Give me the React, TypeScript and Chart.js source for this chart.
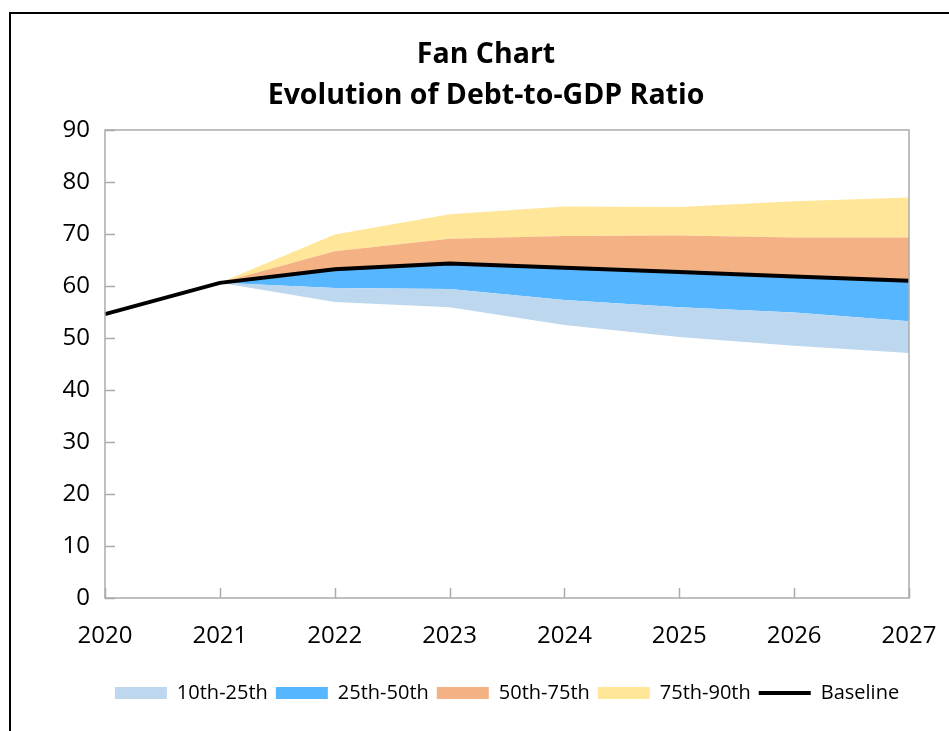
import React, { useEffect, useRef } from "react";
import { Chart, registerables } from "chart.js";

Chart.register(...registerables);

const years = ["2020", "2021", "2022", "2023", "2024", "2025", "2026", "2027"];
const baseline = [54.6, 60.6, 63.2, 64.3, 63.5, 62.7, 61.8, 61.0];
const p10 = [null, 60.6, 56.9, 55.9, 52.5, 50.2, 48.5, 47.1];
const p25 = [null, 60.6, 59.6, 59.4, 57.3, 55.9, 54.9, 53.2];
const p50 = [null, 60.6, 63.2, 64.3, 63.5, 62.7, 61.8, 61.0];
const p75 = [null, 60.6, 66.7, 69.1, 69.6, 69.7, 69.3, 69.3];
const p90 = [null, 60.6, 69.9, 73.8, 75.3, 75.2, 76.3, 77.0];
const yTicks = [0, 10, 20, 30, 40, 50, 60, 70, 80, 90];

const FONT = "'Open Sans', 'Noto Sans', sans-serif";
const FRAME = "#ababab";

const framePlugin = {
  id: "frame",
  afterDatasetsDraw(chart: any) {
    const { ctx, chartArea } = chart;
    const { left, right, top, bottom } = chartArea;
    ctx.save();
    ctx.strokeStyle = FRAME;
    ctx.lineWidth = 1.5;
    ctx.strokeRect(left, top, right - left, bottom - top);
    const ys = chart.scales.y;
    yTicks.forEach((v) => {
      const py = Math.round(ys.getPixelForValue(v)) + 0.5;
      ctx.beginPath();
      ctx.moveTo(left, py);
      ctx.lineTo(left + 10, py);
      ctx.stroke();
    });
    const xs = chart.scales.x;
    years.forEach((_, i) => {
      const px = Math.round(xs.getPixelForValue(i)) + 0.5;
      ctx.beginPath();
      ctx.moveTo(px, bottom);
      ctx.lineTo(px, bottom - 10);
      ctx.stroke();
    });
    ctx.restore();
  },
};

export default function App() {
  const ref = useRef<HTMLCanvasElement>(null);
  useEffect(() => {
    if (!ref.current) return;
    const band = (label: string, data: any[], fill: number, color: string) => ({
      label,
      data,
      fill,
      backgroundColor: color,
      borderColor: color,
      borderWidth: 0,
      pointRadius: 0,
      tension: 0,
      order: 1,
    });
    const chart = new Chart(ref.current, {
      type: "line",
      data: {
        labels: years,
        datasets: [
          {
            label: "Baseline",
            data: baseline,
            borderColor: "#000000",
            backgroundColor: "#000000",
            borderWidth: 4,
            pointRadius: 0,
            fill: false,
            order: 0,
          },
          { label: "p10", data: p10, fill: false, borderWidth: 0, pointRadius: 0, borderColor: "rgba(0,0,0,0)", order: 1 },
          band("10th-25th", p25, 1, "#BDD7EE"),
          band("25th-50th", p50, 2, "#56B6FF"),
          band("50th-75th", p75, 3, "#F4B183"),
          band("75th-90th", p90, 4, "#FFE699"),
        ] as any,
      },
      plugins: [framePlugin],
      options: {
        animation: false,
        responsive: false,
        layout: { padding: { left: 52, right: 40, top: 0, bottom: 18 } },
        scales: {
          x: {
            offset: false,
            grid: { display: false, drawTicks: false },
            border: { display: false },
            ticks: { color: "#000", font: { family: FONT, size: 24 }, padding: 24, maxRotation: 0 },
            afterFit: (s: any) => {
              s.height = 77;
              s.paddingRight = 0;
              s.paddingLeft = 0;
            },
          },
          y: {
            min: 0,
            max: 90,
            grid: { display: false, drawTicks: false },
            border: { display: false },
            ticks: { stepSize: 10, color: "#000", font: { family: FONT, size: 24 }, padding: 15 },
            afterFit: (s: any) => {
              s.width = 42;
            },
          },
        },
        plugins: {
          title: {
            display: true,
            text: ["Fan Chart", "Evolution of Debt-to-GDP Ratio"],
            color: "#000",
            font: { family: FONT, size: 28.5, weight: "bold", lineHeight: 1.445 },
            padding: { top: 20, bottom: 13.6 },
          },
          legend: {
            position: "bottom",
            fullSize: false,
            labels: {
              usePointStyle: true,
              pointStyleWidth: 52,
              boxHeight: 12,
              padding: 8,
              color: "#000",
              font: { family: FONT, size: 20 },
              generateLabels: () => {
                const items = [
                  { text: "10th-25th", color: "#BDD7EE", idx: 2 },
                  { text: "25th-50th", color: "#56B6FF", idx: 3 },
                  { text: "50th-75th", color: "#F4B183", idx: 4 },
                  { text: "75th-90th", color: "#FFE699", idx: 5 },
                ].map((it) => ({
                  text: it.text,
                  fillStyle: it.color,
                  strokeStyle: it.color,
                  lineWidth: 0,
                  pointStyle: "rect",
                  hidden: false,
                  datasetIndex: it.idx,
                  fontColor: "#000",
                }));
                items.push({
                  text: "Baseline",
                  fillStyle: "#000",
                  strokeStyle: "#000",
                  lineWidth: 4,
                  pointStyle: "line",
                  hidden: false,
                  datasetIndex: 0,
                  fontColor: "#000",
                } as any);
                return items as any;
              },
            },
          },
          tooltip: { enabled: false },
        },
      } as any,
    });
    return () => chart.destroy();
  }, []);

  return (
    <div
      style={{
        position: "absolute",
        left: 9,
        top: 12,
        borderLeft: "2px solid #000",
        borderTop: "2px solid #000",
        width: 938,
        height: 717,
        background: "#fff",
      }}
    >
      <canvas ref={ref} width={938} height={717} style={{ display: "block" }} />
    </div>
  );
}
